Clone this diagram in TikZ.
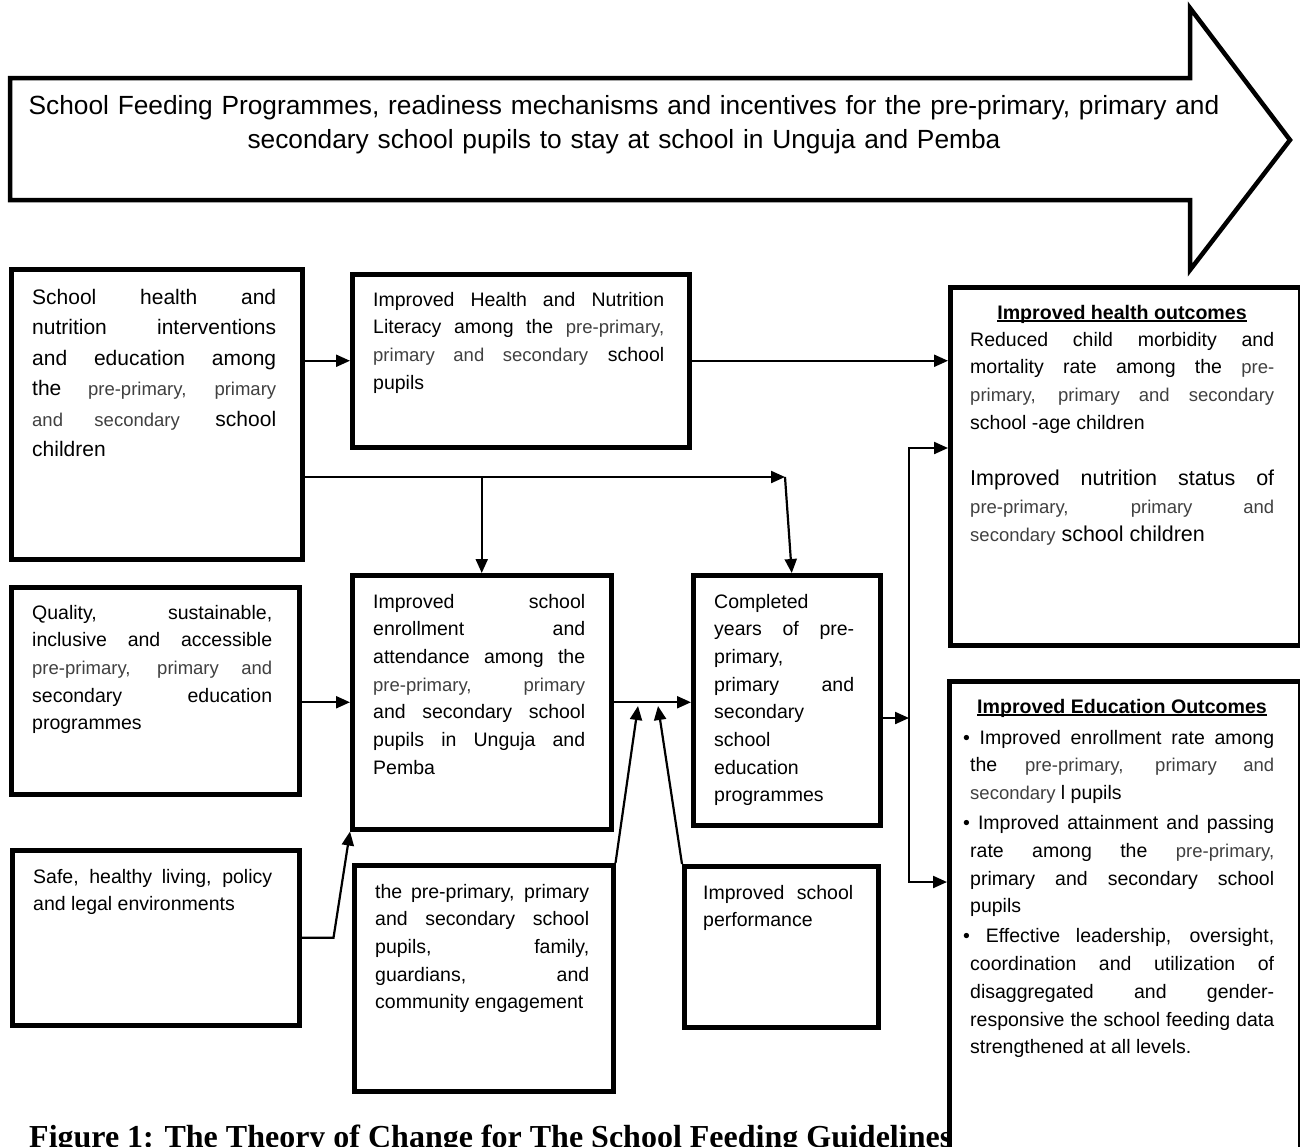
\documentclass[tikz,border=0pt]{standalone}
\usepackage{fontspec}
\setmainfont{Liberation Sans}
\newfontfamily\capfont{Liberation Serif}
\usetikzlibrary{arrows.meta}
\definecolor{pgrey}{gray}{0.25}
\newcommand{\pp}[1]{{\color{pgrey}\fontsize{18.5}{27.7}\selectfont #1}}
\newcommand{\titul}[1]{\setbox0\hbox{#1}\rlap{\rule[-2.5pt]{\wd0}{1.6pt}}\box0}
\tolerance=10000
\hbadness=10000
\begin{document}
\begin{tikzpicture}[x=1pt,y=-1pt]
\tikzstyle{box} = [draw, line width=4.5pt, fill=white, inner sep=0pt, anchor=north west]
\tikzstyle{txt} = [inner sep=0pt, anchor=base west, align=justify, font=\fontsize{19.5}{27.7}\selectfont]
\tikzstyle{head} = [inner sep=0pt, anchor=base, font=\bfseries\fontsize{19.6}{24}\selectfont]
\tikzstyle{arr} = [line width=2.2pt, -{Triangle[length=14pt,width=12pt]}]
\clip (0,0) rectangle (1300,1146);
\fill[white] (0,0) rectangle (1300,1146);
% big programme arrow
\draw[line width=4.5pt, fill=white] (10,78) -- (1190,78) -- (1190,8) -- (1290,140) -- (1190,270) -- (1190,200) -- (10,200) -- cycle;
\node (prog)[inner sep=0pt, anchor=base, text width=1250pt, align=center, font=\fontsize{26.3}{34}\selectfont] at (624,114) {School Feeding Programmes, readiness mechanisms and incentives for the pre-primary, primary and\\ secondary school pupils to stay at school in Unguja and Pemba};
% boxes
\node (A)[box, minimum width=291pt, minimum height=290pt] at (9,267) {};
\node (B)[box, minimum width=337pt, minimum height=173pt] at (350,272) {};
\node (H)[box, minimum width=350pt, minimum height=358pt] at (948,285) {};
\node (E)[box, minimum width=288pt, minimum height=207pt] at (9,585) {};
\node (C)[box, minimum width=259pt, minimum height=254pt] at (350,573) {};
\node (D)[box, minimum width=187pt, minimum height=250pt] at (691,573) {};
\node (F)[box, minimum width=287pt, minimum height=175pt] at (10,848) {};
\node (G)[box, minimum width=259pt, minimum height=226pt] at (352,863) {};
\node (I)[box, minimum width=194pt, minimum height=161pt] at (682,864) {};
\node (cap)[inner sep=0pt, anchor=base west, font=\capfont\bfseries\fontsize{32}{38}\selectfont] at (29,1147) {Figure 1: The Theory of Change for The School Feeding Guidelines};
\node (J)[box, minimum width=351pt, minimum height=490pt] at (947,679) {};
% box texts
\node (At)[txt, text width=244pt, font=\fontsize{21}{30.5}\selectfont] at (32,304) {School health and\linebreak nutrition interventions\linebreak and education among\linebreak the \pp{pre-primary, primary\linebreak and secondary} school\linebreak children};
\node (Bt)[txt, text width=291pt] at (373,306) {Improved Health and Nutrition\linebreak Literacy among the \pp{pre-primary,\linebreak primary and secondary} school\linebreak pupils};
\node (Hh)[head] at (1122,319) {\titul{Improved health outcomes}};
\node (Ht)[txt, text width=304pt] at (970,346) {Reduced child morbidity and\linebreak mortality rate among the \pp{pre-\linebreak primary, primary and secondary}\linebreak school -age children};
\node (Hn)[txt, text width=304pt, font=\fontsize{21.5}{28}\selectfont] at (970,485) {Improved nutrition status of\linebreak \pp{pre-primary, primary and\linebreak secondary} school children};
\node (Ct)[txt, text width=212pt] at (373,608) {Improved school\linebreak enrollment and\linebreak attendance among the\linebreak \pp{pre-primary, primary}\linebreak and secondary school\linebreak pupils in Unguja and\linebreak Pemba};
\node (Dt)[txt, text width=140pt] at (714,608) {Completed\linebreak years of pre-\linebreak primary,\linebreak primary and\linebreak secondary\linebreak school\linebreak education\linebreak programmes};
\node (Et)[txt, text width=240pt] at (32,619) {Quality, sustainable,\linebreak inclusive and accessible\linebreak \pp{pre-primary, primary and}\linebreak secondary education\linebreak programmes};
\node (Ft)[txt, text width=239pt] at (33,883) {Safe, healthy living, policy\linebreak and legal environments};
\node (Gt)[txt, text width=214pt] at (375,898) {the pre-primary, primary\linebreak and secondary school\linebreak pupils, family,\linebreak guardians, and\linebreak community engagement};
\node (It)[txt, text width=150pt] at (703,899) {Improved school\linebreak performance};
\node (Jh)[head] at (1122,713) {\titul{Improved Education Outcomes}};
\node (Jt)[txt, text width=304pt] at (970,744) {\setlength{\parskip}{2.5pt}%
\hspace*{-7pt}\textbullet\ Improved enrollment rate among\linebreak the \pp{pre-primary, primary and}\linebreak \pp{secondary} l pupils\par
\hspace*{-7pt}\textbullet\ Improved attainment and passing\linebreak rate among the \pp{pre-primary,}\linebreak primary and secondary school\linebreak pupils\par
\hspace*{-7pt}\textbullet\ Effective leadership, oversight,\linebreak coordination and utilization of\linebreak disaggregated and gender-\linebreak responsive the school feeding data\linebreak strengthened at all levels.};
% connectors
\coordinate (kink) at (785,477);
\coordinate (mg1) at (638,706);
\coordinate (mg2) at (658,706);
\coordinate (trunk) at (909,718);
\draw[arr] (A.east |- B.west) -- (B.west);
\draw[arr] (B.east) -- (B.east -| H.west);
\draw[arr] (A.east |- kink) -- (kink);
\draw[arr] (kink) -- ([xshift=5pt]D.north);
\draw[arr] (C.north |- kink) -- (C.north);
\draw[arr] (E.east |- C.west) -- (C.west);
\draw[arr] (C.east) -- (C.east -| D.west);
\draw[arr] (G.north east) -- (mg1);
\draw[arr] (I.north west) -- (mg2);
\draw[arr] (F.east) -- ++(32,0) -- (C.south west);
\draw[arr] (D.east |- trunk) -- (trunk);
\draw[line width=2.2pt, {Triangle[length=14pt,width=12pt]}-{Triangle[length=14pt,width=12pt]}] (H.west |- 0,448) -- (trunk |- 0,448) -- (trunk |- 0,882) -- (J.west |- 0,882);
\end{tikzpicture}
\end{document}
